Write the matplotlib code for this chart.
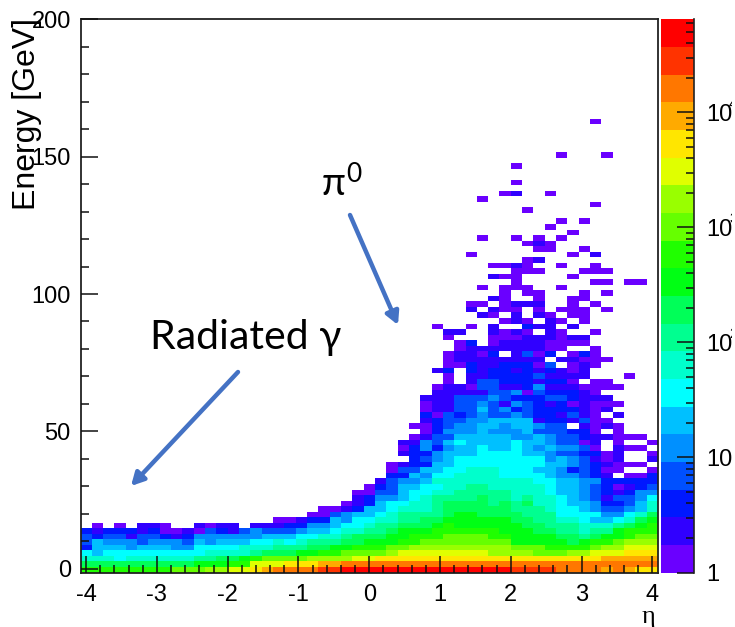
import numpy as np
import matplotlib
matplotlib.use("Agg")
import matplotlib.pyplot as plt
from matplotlib.colors import ListedColormap, BoundaryNorm
from matplotlib.ticker import MultipleLocator, LogLocator, NullFormatter
from matplotlib.transforms import Bbox, TransformedBbox, ScaledTranslation

# palette band of every cell, 1..k = 1..20, dot = empty bin
E = "." * 21
# eta bins 30-50, rows from the highest filled one going down
upper_rows = [
    "...............1.....", E, E, E, E, E,
    "............1...1....", E,
    "........1............", E, E,
    "........1............", E,
    ".......12..1.........",
    ".....1...............",
    "...............1.....",
    ".........1...........", E,
    "............1.1......",
    "...........1.........",
    ".............1.......",
    ".....1..1.1.1........",
    ".........121.........",
    "..........11..1......",
    "....1........1.2.....",
    ".........12..........",
    "......1121..1..1.....",
    "........111...111....",
    "......211....1.......",
    "........1......11.11.",
    ".....1.111..1........",
    ".......1.11...1.1....",
    "......21..1..11......",
    "....11.1222..1.1.....",
    "....2.211.1.111.1....",
    ".....21.2.21.11......",
    ".......121.21.1......",
    ".1..1.2..322.2.......",
    "..22..2121.21..1.....",
    "..1...111222122......",
    "...13.122221111......",
    "...1222222211..1.....",
    "..12213.2413.131.....",
    "..122222222.22111....",
    "..1132233314.121.....",
    ".23.32332323212......",
    "..1.22333342222...1..",
    "..1.2443332331.11....",
    ".12214422352221111...",
    ".222224451433321.....",
]
# eta bins 15-50
shoulder_rows = [
    "............... 22244454333443222....",
    "............... 122445425432312111...",
    "............... 12244645343333212....",
    "............... 3143454454332421.2...",
    "............... 23445566662332411....",
    "..............1 1345566566544.2121...",
    "............... 1355565556444331.1...",
    "..............1 24466666556544322111.",
    ".............22 5467666676654412.1..1",
    ".............13 5356676676565541.211.",
    ".............23 356667777665443312..1",
    "..............3 456777777775654212..2",
    "............123 36677777777665432111.",
    "............144 667788877766534311..1",
    "............336 57788887777655432.113",
    "...........2455 688888888877665533333",
    "..........13466 778899888887665431234",
    ".........114467 788999998887665432355",
    ".........235567 89999a998988765424457",
    "........1236778 89aaaa9a9a88766533468",
    "......112366788 89aaaaaa9998776544568",
    ".....1145667899 99abbaaaa99977775578a",
    "..1123365778899 aabbbbbbaa998876678ab",
]
# all eta bins, lowest nine rows end with the bottom one
base_rows = [
    ".1.1.221..2122. 2223355677899aa abcbbbbbbaa9998889abc",
    "323332311214324 544456678899abb bccccccbbbaa99899bccc",
    "434424432355555 566677889aaabbc ccddddccbbbbaa9abbcdd",
    "465554555465666 77878999aabbbcc ddddddddbbbbbabccdeee",
    "366656665577778 88999aabbcccdde eeeeeeeedddccccdeefff",
    "767777777778888 9aaabbccddddeff ffffffeeeedddeefffggg",
    "888788888899aab cddddeeeeffgggg gggggggggggggggghhhhh",
    "aaaaaaaaaabbbcc fffggghhiiiiiii iiiiiiiiiiiiiiiiiiiii",
    "ccccccccdddeeff ghiiiijjkkkkkkk kkkkkkkkjjjjiiiihihgg",
]

palette = ["#6a00ff", "#3000ff", "#0018ff", "#0050ff", "#0090ff", "#00c0ff", "#00ffff",
           "#00ffcc", "#00ff90", "#00ff58", "#00ff14", "#20ff00", "#66ff00", "#99ff00",
           "#e0ff00", "#ffe600", "#ffaa00", "#ff7700", "#ff3300", "#ff0000"]
x_ticks = [-4, -3, -2, -1, 0, 1, 2, 3, 4]
y_ticks = [0, 50, 100, 150, 200]
bar_labels = [(1, "1", ""), (10, "10", ""), (100, "10", "2"), (1000, "10", "3"), (10000, "10", "4")]

NX, NY = 51, 100
Z_MAX = 10 ** 4.81
CODES = "123456789abcdefghijk"


def fill_rows(grid, rows, first_col, top_row):
    for n, row in enumerate(rows):
        row = row.replace(" ", "")
        assert len(row) == NX - first_col, (n, row, len(row))
        for i, c in enumerate(row):
            if c != ".":
                grid[top_row - n, first_col + i] = CODES.index(c) + 1


levels = np.zeros((NY, NX))
fill_rows(levels, upper_rows, 30, 81)
fill_rows(levels, shoulder_rows, 15, 31)
fill_rows(levels, base_rows, 0, 8)

# band number -> counts, bin centre of the log colour band
z_edges = np.logspace(0, np.log10(Z_MAX), 21)
counts = np.where(levels > 0, 10 ** ((levels - 0.5) * np.log10(Z_MAX) / 20), np.nan)
counts = np.ma.masked_invalid(counts)

W, H = 735, 627
plt.rcParams['font.family'] = ['Liberation Sans', 'DejaVu Sans']
plt.rcParams['axes.unicode_minus'] = False
fig = plt.figure(figsize=(W / 100, H / 100), dpi=100)


def box(x0, y0, x1, y1):
    return [x0 / W, 1 - y1 / H, (x1 - x0) / W, (y1 - y0) / H]


ax = fig.add_axes(box(80.5, 19.3, 658, 572.5))
cmap = ListedColormap(palette)
norm = BoundaryNorm(z_edges, 20)
x_edges = np.linspace(-4.08, 4.08, NX + 1)
y_edges = np.linspace(-1.38, 200, NY + 1)
ax.pcolormesh(x_edges, y_edges, counts, cmap=cmap, norm=norm)
ax.set_xlim(-4.08, 4.08)
ax.set_ylim(-1.38, 200)
ax.set_xticks(x_ticks)
ax.set_yticks(y_ticks)
ax.xaxis.set_minor_locator(MultipleLocator(0.2))
ax.yaxis.set_minor_locator(MultipleLocator(10))
ax.tick_params(which='major', direction='in', length=12, width=1.1, color='#111111', labelsize=17)
ax.tick_params(which='minor', direction='in', length=6, width=1.1, color='#111111')
ax.tick_params(axis='x', pad=8)
ax.tick_params(axis='y', pad=7)
for s in ax.spines.values():
    s.set_linewidth(1.3)
    s.set_color('#222222')
ax.set_axisbelow(False)

# colour scale
cax = fig.add_axes(box(661, 19.3, 693.7, 572.5))
cax.pcolormesh([0, 1], z_edges, np.arange(20).reshape(-1, 1), cmap=cmap,
               norm=BoundaryNorm(np.arange(21) - 0.5, 20))
cax.set_yscale('log')
cax.set_ylim(1, Z_MAX)
cax.set_xlim(0, 1)
cax.set_xticks([])
cax.yaxis.set_major_locator(LogLocator(base=10, numticks=8))
cax.yaxis.set_minor_locator(LogLocator(base=10, subs=np.arange(2, 10), numticks=8))
cax.yaxis.set_major_formatter(NullFormatter())
cax.yaxis.set_minor_formatter(NullFormatter())
cax.yaxis.tick_right()
cax.tick_params(which='major', direction='in', length=12, width=1.1, color='#111111')
cax.tick_params(which='minor', direction='in', length=6, width=1.1, color='#111111')
for side in ['left', 'top', 'bottom']:
    cax.spines[side].set_visible(False)
cax.spines['right'].set_linewidth(1.2)
cax.spines['right'].set_color('#222222')

# picture is cut off on the right, so the exponents only show as a sliver
cut = TransformedBbox(Bbox([[0, 0], [731.5 / W, 1]]), fig.transFigure)
shift = cax.get_yaxis_transform() + ScaledTranslation(0, -2.5 / 100, fig.dpi_scale_trans)
for val, base, exp in bar_labels:
    t = cax.text(1.39, val, base, transform=shift, fontsize=17, ha='left', va='center', clip_on=True)
    t.set_clip_box(cut)
    if exp:
        t2 = cax.text(2.08, val * 1.25, exp, transform=shift, fontsize=11, ha='left', va='center',
                      clip_on=True)
        t2.set_clip_box(cut)

fig.text(42 / W, 1 - 18 / H, "Energy [GeV]", rotation=90, fontsize=23, ha='right', va='top')
fig.text(648 / W, 1 - 617 / H, "η", family=['Liberation Serif', 'DejaVu Serif'], fontsize=19,
         ha='center', va='center')

# slide annotations on top of the plot
blue = '#4472c4'
note = ['Lato', 'DejaVu Sans']
fig.text(150 / W, 1 - 337 / H, "Radiated γ", family=note, fontsize=29.5, ha='left', va='center')
fig.text(322 / W, 1 - 184 / H, "π", family=note, fontsize=28, ha='left', va='center')
fig.text(346 / W, 1 - 174 / H, "0", family=note, fontsize=19, ha='left', va='center')
for tail, head in [((350, 215), (398, 325)), ((238, 372), (131, 486))]:
    ax.annotate("", xy=(head[0], H - head[1]), xytext=(tail[0], H - tail[1]),
                xycoords='figure pixels', textcoords='figure pixels',
                arrowprops=dict(arrowstyle='-|>,head_length=0.75,head_width=0.4', color=blue,
                                lw=3.2, shrinkA=0, shrinkB=0))

fig.savefig("out.png", dpi=100)
